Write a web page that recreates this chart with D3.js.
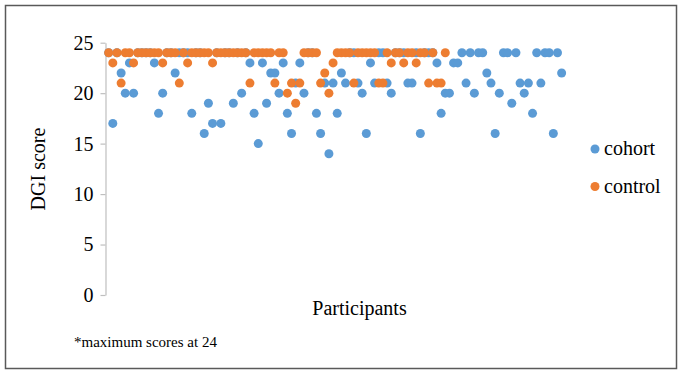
<!DOCTYPE html>
<html>
<head>
<meta charset="utf-8">
<script src="https://cdn.jsdelivr.net/npm/d3@7"></script>
<style>
  html, body { margin: 0; padding: 0; background: #fff; }
  svg { display: block; }
  text { font-family: "Liberation Serif", "Times New Roman", serif; fill: #000; }
</style>
</head>
<body>
<div id="chart"></div>
<script>
// DGI scores per participant (participant number = position + 1)
const cohortScores = [
  24, 17, 24, 22, 20, 23, 20, 24, 24, 24,
  24, 23, 18, 20, 24, 24, 22, 24, 24, 24,
  18, 24, 24, 16, 19, 17, 24, 17, 24, 24,
  19, 24, 20, 24, 23, 18, 15, 23, 19, 22,
  22, 20, 23, 18, 16, 21, 23, 20, 24, 24,
  18, 16, 21, 14, 21, 18, 22, 21, 24, 24,
  21, 20, 16, 23, 21, 24, 24, 21, 20, 24,
  24, 24, 21, 21, 24, 16, 24, 24, 24, 23,
  18, 20, 20, 23, 23, 24, 21, 24, 20, 24,
  24, 22, 21, 16, 20, 24, 24, 19, 24, 21,
  20, 21, 18, 24, 21, 24, 24, 16, 24, 22
];
const controlScores = [
  24, 23, 24, 21, 24, 24, 23, 24, 24, 24,
  24, 24, 24, 23, 24, 24, 24, 21, 24, 23,
  24, 24, 24, 24, 24, 23, 24, 24, 24, 24,
  24, 24, 24, 24, 21, 24, 24, 24, 24, 24,
  21, 24, 24, 20, 21, 19, 21, 24, 24, 24,
  24, 21, 22, 20, 23, 24, 24, 24, 24, 21,
  24, 24, 24, 24, 24, 21, 21, 24, 23, 24,
  24, 23, 24, 24, 23, 24, 24, 21, 24, 21,
  21, 24
];
const yTicks = [0, 5, 10, 15, 20, 25];
const seriesNames = ["cohort", "control"];
const seriesColors = ["#5B9BD5", "#ED7D31"];

const width = 681, height = 372;
const svg = d3.select("#chart").append("svg")
  .attr("width", width).attr("height", height);

svg.append("rect").attr("width", width).attr("height", height).attr("fill", "#fff");

// outer frame
svg.append("rect")
  .attr("x", 5.5).attr("y", 5.5)
  .attr("width", 671).attr("height", 363)
  .attr("fill", "none").attr("stroke", "#595959").attr("stroke-width", 1.5);

const x = d3.scaleLinear().domain([0, 111]).range([104.5, 565.8]);
const y = d3.scaleLinear().domain([0, 25]).range([295, 42.7]);

// y axis
const gy = svg.append("g")
  .attr("transform", "translate(105.5,0)")
  .call(d3.axisLeft(y).tickValues(yTicks).tickSize(5).tickSizeOuter(0).tickPadding(7));
gy.attr("font-family", null).attr("font-size", null);
gy.select(".domain").attr("stroke", "#bfbfbf").attr("stroke-width", 1.2);
gy.selectAll(".tick line").attr("stroke", "#bfbfbf").attr("stroke-width", 1.2);
gy.selectAll(".tick text").attr("font-size", "20px").attr("fill", "#000");

// points: cohort first, control drawn over it
const series = [cohortScores, controlScores];
series.forEach((vals, s) => {
  svg.append("g").selectAll("circle")
    .data(vals)
    .join("circle")
    .attr("cx", (d, i) => x(i + 1))
    .attr("cy", d => y(d))
    .attr("r", 4.5)
    .attr("fill", seriesColors[s]);
});

// axis titles
svg.append("text")
  .attr("x", 359.5).attr("y", 315)
  .attr("text-anchor", "middle").attr("font-size", "20px")
  .text("Participants");

svg.append("text")
  .attr("transform", "translate(45,169) rotate(-90)")
  .attr("text-anchor", "middle").attr("font-size", "20px")
  .text("DGI score");

// legend
const legendY = [149, 186.5];
seriesNames.forEach((name, i) => {
  svg.append("circle")
    .attr("cx", 595).attr("cy", legendY[i]).attr("r", 4.5)
    .attr("fill", seriesColors[i]);
  svg.append("text")
    .attr("x", 604).attr("y", legendY[i]).attr("dy", "0.32em")
    .attr("font-size", "20px")
    .text(name);
});

// footnote
svg.append("text")
  .attr("x", 74).attr("y", 347)
  .attr("font-size", "15px")
  .text("*maximum scores at 24");
</script>
</body>
</html>
